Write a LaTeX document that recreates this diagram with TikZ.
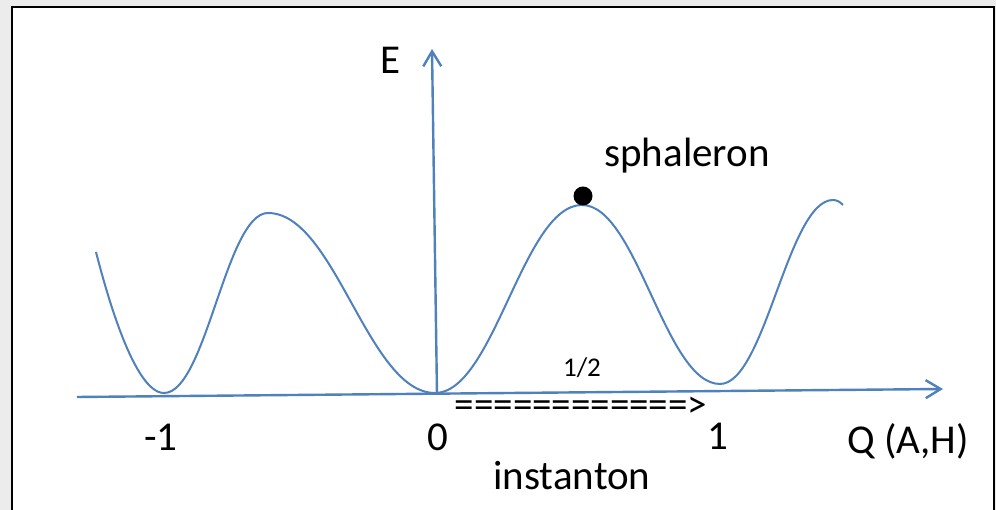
\documentclass[tikz,border=0pt]{standalone}
\usepackage{fontspec}
\setmainfont{Carlito}
\usepackage{xcolor}
\definecolor{curveblue}{RGB}{79,129,189}
\definecolor{pagegray}{RGB}{236,236,236}
\usetikzlibrary{arrows.meta, positioning}

\tikzset{
  axis/.style={curveblue, line width=2.4pt, -{Straight Barb[length=15pt,width=18pt]}},
  potential/.style={curveblue, line width=2pt},
  lbl/.style={inner sep=0pt, font=\fontsize{41}{46}\selectfont},
  small/.style={inner sep=0pt, font=\fontsize{27}{31}\selectfont},
  dot/.style={circle, fill=black, inner sep=0pt, minimum size=19pt}
}

\begin{document}
\begin{tikzpicture}[x=1pt, y=1pt]
\useasboundingbox (0,0) rectangle (996,510);
% page frame
\fill[pagegray] (0,0) rectangle (996,510);
\fill[white] (12,-10) rectangle (994,503);
\draw[black, line width=2pt] (12,-10) -- (12,503) -- (994,503) -- (994,-10);

% axes
\coordinate (xstart) at (77,113);
\coordinate (xend) at (943,121);
\coordinate (ystart) at (437,115);
\coordinate (yend) at (432,461);
\draw[axis] (xstart) -- (xend);
\draw[axis] (ystart) -- (yend);

% periodic potential
\draw[potential] (96,258)
  .. controls (106,219) and (134,117) .. (164,117)
  .. controls (206,117) and (226,297) .. (268,297)
  .. controls (335,297) and (368,117) .. (435,117)
  .. controls (494,117) and (523,305) .. (582,305)
  .. controls (637,305) and (665,126) .. (720,126)
  .. controls (765,126) and (788,310) .. (833,310)
  .. controls (837,310) and (840,308) .. (843,305);

\node[dot] (sph) at (583,314) {};

% labels
\node[lbl] (energy) at (391,450) {E};
\node[lbl] (sphaleron) at (687,354) {sphaleron};
\node[small] (half) at (582,142) {1/2};
\node[lbl, font=\fontsize{39}{44}\selectfont] (tunnel) at (581,103) {============>};
\node[lbl] (minusone) at (161,73) {-1};
\node[lbl] (zero) at (438,73) {0};
\node[lbl] (one) at (718,74) {1};
\node[lbl] (charge) at (908,69) {Q (A,H)};
\node[lbl] (instanton) at (572,34) {instanton};
\end{tikzpicture}
\end{document}
